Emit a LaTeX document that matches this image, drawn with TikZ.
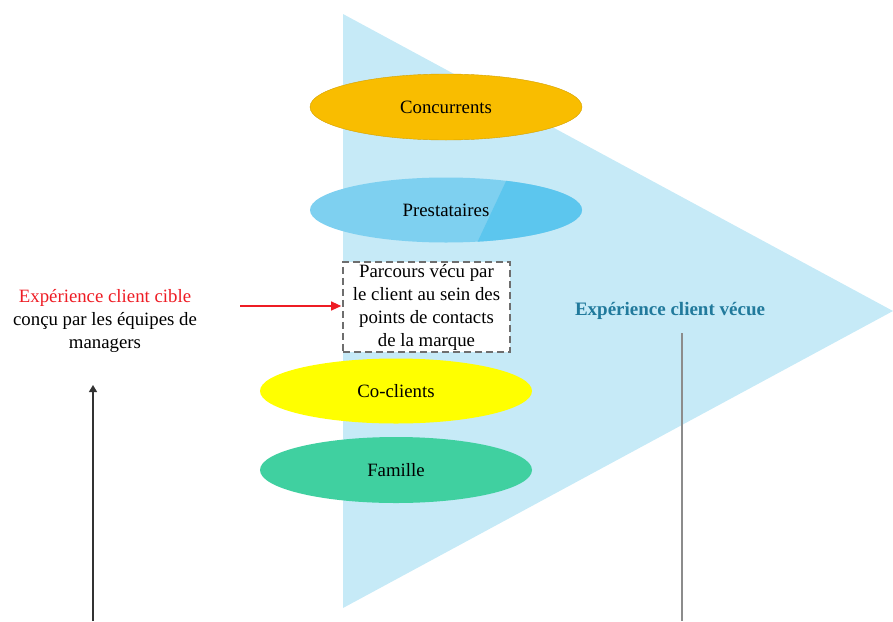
\documentclass[tikz,border=0pt]{standalone}
\usepackage{fontspec}
\setmainfont{Liberation Serif}
\usetikzlibrary{shapes.geometric,arrows.meta}
\definecolor{tri}{HTML}{C6EAF7}
\definecolor{conc}{HTML}{F9BD00}
\definecolor{prestA}{HTML}{7ED0F0}
\definecolor{prestB}{HTML}{5CC6EE}
\definecolor{cocl}{HTML}{FFFF00}
\definecolor{fam}{HTML}{40D0A0}
\definecolor{teal}{HTML}{217A9C}
\definecolor{redtxt}{HTML}{EE1C24}
\definecolor{boxline}{HTML}{6E6E6E}
\begin{document}
\begin{tikzpicture}[x=1pt,y=-1pt,
  every node/.style={font=\fontsize{18.8}{23}\selectfont},
  ell/.style={ellipse,minimum width=272pt,minimum height=66pt,inner sep=0pt},
]
\useasboundingbox (0,0) rectangle (893,621);
% triangle
\fill[tri] (343,14) -- (893,311) -- (343,608) -- cycle;
% ellipses
\node[ell,fill=conc,draw=conc!85!black,line width=0.4pt] (conc) at (446,107) {Concurrents};
\begin{scope}
  \clip (446,210) ellipse [x radius=136, y radius=32.5];
  \fill[prestA] (300,170) rectangle (590,250);
  \fill[prestB] (508,177) -- (600,177) -- (600,243) -- (477,243) -- cycle;
\end{scope}
\node[ell,minimum height=65pt] (prest) at (446,210) {Prestataires};
\node[ell,fill=cocl,minimum height=65pt] (cocl) at (396,391) {Co-clients};
\node[ell,fill=fam] (fam) at (396,470) {Famille};
% dashed box
\node[draw=boxline,line width=1.6pt,fill=white,minimum width=167pt,minimum height=90pt,inner sep=2pt,align=center,dash pattern=on 7pt off 4pt] (parc) at (426.5,307) {Parcours vécu par\\le client au sein des\\points de contacts\\de la marque};
% left text
\node[align=center] (cible) at (105,321) {\textcolor{redtxt}{Expérience client cible}\\conçu par les équipes de\\managers};
% right text
\node[text=teal,font=\fontsize{19}{23}\selectfont\bfseries] (vecue) at (670,311) {Expérience client vécue};
% connectors
\coordinate (redstart) at (240,306);
\draw[redtxt,line width=1.2pt,-{Triangle[length=10pt,width=9pt]}] (redstart) -- ([xshift=-1pt]parc.west |- redstart);
\coordinate (blackstart) at (93,621);
\coordinate (blacktip) at (93,385);
\draw[black!80,line width=1.4pt,-{Triangle[length=7pt,width=8pt]}] (blackstart) -- (blacktip);
\coordinate (graytop) at (682,333);
\coordinate (graybot) at (682,621);
\draw[black!45,line width=1.4pt] (graytop) -- (graybot);
\end{tikzpicture}
\end{document}
